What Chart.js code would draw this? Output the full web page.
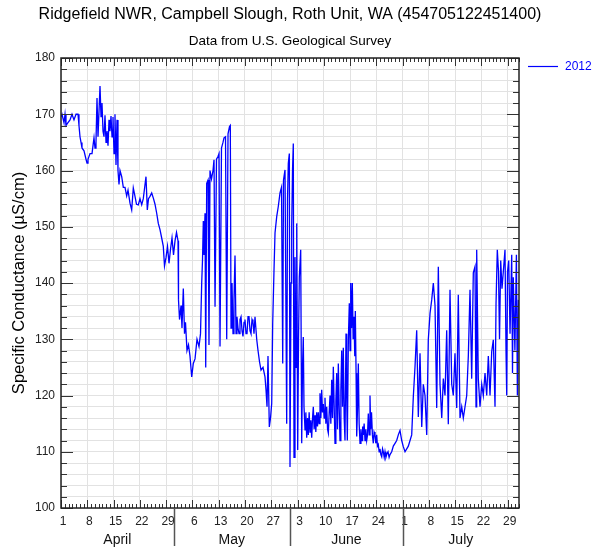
<!DOCTYPE html>
<html>
<head>
<meta charset="utf-8">
<title>Ridgefield NWR specific conductance</title>
<script src="https://cdn.jsdelivr.net/npm/chart.js@4.4.0/dist/chart.umd.min.js"></script>
<style>
    html, body { margin: 0; padding: 0; background: #fff; }
</style>
</head>
<body>
<canvas id="scCanvas" width="594" height="548"></canvas>
<script>
// positions are days since 1 April 2012 00:00, values in uS/cm
const aprilDays = [
    0.00, 0.27, 0.80, 1.07, 1.33, 1.86, 2.40, 2.93, 3.46, 4.00,
    4.53, 4.79, 5.06, 5.33, 5.59, 6.13, 6.66, 6.93, 7.19, 7.73,
    8.26, 8.79, 9.06, 9.32, 9.59, 9.86, 10.39, 10.66, 10.92, 11.19,
    11.45, 11.72, 11.99, 12.25, 12.52, 12.79, 13.05, 13.32, 13.59, 13.85,
    14.12, 14.38, 14.65, 14.92, 15.18, 15.45, 15.72, 16.17, 16.60, 17.05,
    17.50, 17.85, 18.38, 18.83, 19.26, 19.71, 20.11, 20.59, 21.04, 21.50,
    21.92, 22.64, 22.99, 23.31, 23.71, 24.16, 24.64, 25.04, 25.49, 25.92,
    26.37, 26.82, 27.25, 27.57, 27.97, 28.37, 28.77, 29.17, 29.57, 29.97
];
const aprilValues = [
    169.5, 170, 168.5, 170, 168, 168.5, 169, 170, 169, 170,
    170, 168, 166, 165, 164, 163.5, 162, 161.3, 162, 163,
    163, 165.8, 164, 165, 172.9, 166, 175, 169.6, 172, 167,
    166, 169.8, 165, 167, 164.4, 169, 167, 169.7, 166, 169.5,
    163, 170, 161, 169, 160, 157.5, 160, 158.9, 157, 157,
    155.5, 156.5, 154.2, 153, 156.9, 155.4, 154, 153.9, 155, 153.9,
    155, 158.9, 153, 155, 155.4, 156, 155, 154, 152.4, 150.6,
    149.5, 148, 146.5, 143, 144.5, 146.5, 143.5, 146, 148, 145
];

const mayDays = [
    30.37, 30.77, 31.17, 31.30, 31.57, 31.97, 32.23, 32.58, 32.90, 33.16,
    33.56, 33.96, 34.36, 34.82, 35.24, 35.70, 36.23, 36.76, 37.16, 37.48,
    37.69, 37.91, 38.09, 38.36, 38.55, 38.81, 39.16, 39.42, 39.69, 40.09,
    40.49, 40.76, 41.03, 41.42, 41.82, 42.09, 42.36, 42.75, 43.15, 43.42,
    43.82, 44.14, 44.49, 44.89, 45.10, 45.29, 45.55, 45.82, 46.08, 46.35,
    46.62, 46.88, 47.15, 47.42, 47.68, 47.95, 48.22, 48.48, 48.75, 49.01,
    49.28, 49.55, 49.82, 50.08, 50.35, 50.61, 50.88, 51.14, 51.41, 51.68,
    52.13, 52.48, 52.88, 53.28, 53.81, 54.34, 54.61, 54.88, 55.14, 55.49,
    55.81, 56.13, 56.39, 56.74, 57.01, 57.46, 57.88, 58.34, 58.74, 59.06,
    59.27, 59.67, 60.12, 60.34, 60.55, 60.82
];
const mayValues = [
    147.5, 149, 147.5, 137, 133.5, 136, 132, 139, 131, 133,
    128, 129, 127, 123.3, 125.7, 126.5, 130, 128.7, 131, 140,
    144, 151, 145, 152.4, 125, 157.7, 158.3, 129, 160, 158.5,
    160, 161.9, 135.8, 162, 162.5, 163, 128.7, 164, 165, 165.8,
    166, 130, 166.5, 167.8, 168, 132, 140, 131, 137, 144.9,
    131, 134, 132, 131, 133.5, 134, 131.5, 130.5, 133, 133.5,
    131, 131, 134, 134, 131.5, 131, 133.5, 133, 131, 134,
    130, 128, 126, 124.5, 125, 123.3, 121, 118, 127, 114.4,
    116, 118.6, 132.8, 142.3, 148.9, 151.8, 153.6, 156, 157, 125.7,
    158.3, 160.1, 115, 155, 161.3, 163
];

const juneDays = [
    61.00, 61.27, 61.45, 61.67, 61.88, 62.07, 62.33, 62.60, 62.79, 63.05,
    63.27, 63.48, 63.85, 64.12, 64.33, 64.54, 64.73, 65.00, 65.22, 65.45,
    65.67, 65.88, 66.10, 66.33, 66.55, 66.78, 67.00, 67.21, 67.43, 67.66,
    67.88, 68.11, 68.33, 68.54, 68.77, 68.99, 69.22, 69.44, 69.65, 69.87,
    70.10, 70.32, 70.55, 70.78, 71.00, 71.21, 71.44, 71.66, 71.88, 72.11,
    72.33, 72.54, 72.77, 72.99, 73.22, 73.44, 73.66, 73.87, 74.10, 74.32,
    74.55, 74.77, 74.99, 75.20, 75.43, 75.65, 75.92, 76.10, 76.27, 76.55,
    76.80, 77.00, 77.17, 77.40, 77.60, 77.82, 78.05, 78.25, 78.40, 78.60,
    78.77, 79.00, 79.20, 79.42, 79.65, 79.90, 80.18, 80.35, 80.53, 80.75,
    80.98, 81.20, 81.43, 81.65, 81.86, 82.10, 82.31, 82.50, 82.71, 82.95,
    83.19, 83.40, 83.64, 83.85, 84.09, 84.30, 84.52, 84.75, 84.97, 85.20,
    85.43, 85.65, 85.85, 86.10, 86.31, 86.55, 86.76, 87.11, 87.40, 87.64,
    88.09, 88.52, 88.97, 89.42, 89.85, 90.30, 90.76
];
const juneValues = [
    107.3, 140, 150, 160, 164.8, 109, 144.6, 125, 150.6, 110.3,
    130, 141, 145.9, 111.5, 125, 130.4, 118, 113.9, 117, 112.5,
    116, 113, 117, 113.5, 115.6, 112.5, 116, 118, 114, 116.5,
    113.5, 117, 114.5, 117, 115, 120.4, 116, 121, 117, 118.5,
    116, 119.6, 115, 118, 114, 113.3, 117, 120, 115, 122.8,
    116, 125.1, 118, 111.5, 119, 124, 114, 125.7, 118, 112,
    121, 128, 118, 128.5, 116, 112, 131, 120, 112, 130,
    136.4, 128, 140, 132, 140, 130, 134, 127, 135, 124,
    112.7, 118, 125.7, 115, 111.5, 114, 112, 114.5, 113, 115,
    112, 114, 112, 113, 116.8, 113, 120, 114, 117, 113,
    111.5, 113.5, 113, 111.5, 113, 111, 111.3, 110, 110.5, 109.5,
    109.1, 110.5, 110, 109, 110, 109, 109.5, 110, 109, 109.5,
    110, 111, 111.5, 112, 113, 113.8, 112
];

const julyDays = [
    91.18, 91.64, 92.09, 92.52, 92.97, 93.42, 93.85, 94.30, 94.75, 95.18,
    95.63, 96.09, 96.51, 96.96, 97.42, 97.84, 98.30, 98.75, 99.18, 99.63,
    100.08, 100.51, 100.96, 101.42, 101.84, 102.29, 102.74, 103.17, 103.62, 104.08,
    104.50, 104.95, 105.41, 105.83, 106.29, 106.74, 107.17, 107.62, 108.07, 108.50,
    108.95, 109.40, 109.83, 110.28, 110.55, 110.73, 111.16, 111.61, 112.07, 112.49,
    112.95, 113.40, 113.83, 114.28, 114.73, 115.16, 115.61, 115.88, 116.22, 116.54,
    116.81, 117.13, 117.47, 117.82, 118.27, 118.54, 118.73, 118.94, 119.26, 119.61,
    120.06, 120.27, 120.48, 120.91, 121.31, 121.57, 121.84
];
const julyValues = [
    110.9, 110, 110.5, 111, 112, 113, 119.8, 125.1, 131.6, 116.2,
    127.5, 114.4, 122, 120, 113, 129.9, 134.6, 137, 140, 136,
    117.8, 142.9, 122, 116, 123, 120, 131.6, 114.9, 138.8, 122,
    120, 127.5, 117.8, 137.9, 116, 118, 116, 118, 120, 127,
    138.8, 123, 141.8, 142.9, 118, 145.9, 123, 118, 122, 120,
    124, 120, 127, 120, 127.8, 129.9, 118, 136.3, 145.9, 142,
    130, 144, 139, 142, 145.9, 128, 120, 142, 144, 131,
    145, 124, 141, 128, 145, 120, 137
];

const monthNames = ['April', 'May', 'June', 'July'];
const monthLengths = [30, 31, 30, 31];
// weekly tick labels (day of month), every 7 days from 1 April
const tickDays = [1, 8, 15, 22, 29, 6, 13, 20, 27, 3, 10, 17, 24, 1, 8, 15, 22, 29];

const titleText = 'Ridgefield NWR, Campbell Slough, Roth Unit, WA (454705122451400)';
const subtitleText = 'Data from U.S. Geological Survey';
const FONT = "'Liberation Sans', Arial, sans-serif";
const totalDays = monthLengths.reduce((a, b) => a + b, 0);

const allDays = aprilDays.concat(mayDays, juneDays, julyDays);
const allValues = aprilValues.concat(mayValues, juneValues, julyValues);
const points = allDays.map((d, i) => ({ x: d, y: allValues[i] }));

const framePlugin = {
    id: 'frame',
    afterDatasetsDraw(chart) {
        const { ctx, chartArea: a, scales } = chart;
        const x = scales.x, y = scales.y;
        ctx.save();

        // small inward ticks on all four sides
        ctx.strokeStyle = '#333';
        ctx.lineWidth = 1;
        ctx.beginPath();
        for (let d = 0; d <= totalDays; d++) {
            const px = Math.round(x.getPixelForValue(d)) + 0.5;
            const len = d % 7 === 0 ? 8 : 4;
            ctx.moveTo(px, a.bottom); ctx.lineTo(px, a.bottom - len);
            ctx.moveTo(px, a.top); ctx.lineTo(px, a.top + len);
        }
        for (let v = 100; v <= 180; v += 2) {
            const py = Math.round(y.getPixelForValue(v)) + 0.5;
            const len = v % 10 === 0 ? 12 : 6;
            ctx.moveTo(a.left, py); ctx.lineTo(a.left + len, py);
            ctx.moveTo(a.right, py); ctx.lineTo(a.right - len, py);
        }
        ctx.stroke();

        // frame
        ctx.strokeStyle = '#222';
        ctx.lineWidth = 1.5;
        ctx.strokeRect(a.left, a.top, a.right - a.left, a.bottom - a.top);

        // month separators and names
        ctx.strokeStyle = '#555';
        ctx.lineWidth = 1.5;
        ctx.fillStyle = '#111';
        ctx.font = '14px ' + FONT;
        ctx.textAlign = 'center';
        ctx.textBaseline = 'middle';
        let start = 0;
        monthNames.forEach((m, i) => {
            const end = start + monthLengths[i];
            const mid = (x.getPixelForValue(start) + x.getPixelForValue(end)) / 2;
            ctx.fillText(m, mid, 540);
            if (i > 0) {
                const px = Math.round(x.getPixelForValue(start)) + 0.5;
                ctx.beginPath();
                ctx.moveTo(px, a.bottom);
                ctx.lineTo(px, 546);
                ctx.stroke();
            }
            start = end;
        });

        // titles
        const cx = (a.left + a.right) / 2;
        ctx.fillStyle = '#000';
        ctx.font = '16px ' + FONT;
        ctx.fillText(titleText, cx, 15);
        ctx.font = '13.5px ' + FONT;
        ctx.fillText(subtitleText, cx, 41);

        // legend
        const ds = chart.data.datasets[0];
        ctx.strokeStyle = ds.borderColor;
        ctx.lineWidth = 1.2;
        ctx.beginPath();
        ctx.moveTo(528, 66.5);
        ctx.lineTo(558, 66.5);
        ctx.stroke();
        ctx.fillStyle = ds.borderColor;
        ctx.font = '12px ' + FONT;
        ctx.textAlign = 'left';
        ctx.fillText(ds.label, 565, 67);

        ctx.restore();
    }
};

const ctx = document.getElementById('scCanvas').getContext('2d');
const scChart = new Chart(ctx, {
    type: 'line',
    data: {
        datasets: [{
            label: '2012',
            data: points,
            borderColor: '#0000ff',
            borderWidth: 1.3,
            pointRadius: 0,
            tension: 0,
            fill: false
        }]
    },
    options: {
        responsive: false,
        animation: false,
        layout: { padding: { left: 0, top: 58, right: 75, bottom: 0 } },
        plugins: {
            legend: { display: false },
            tooltip: { enabled: false }
        },
        scales: {
            x: {
                type: 'linear',
                min: 0,
                max: totalDays,
                afterBuildTicks: s => { s.ticks = tickDays.map((d, i) => ({ value: i * 7 })); },
                afterFit: s => { s.height = 40; },
                grid: { color: '#e2e2e2', drawTicks: false },
                border: { display: false },
                ticks: {
                    autoSkip: false,
                    maxRotation: 0,
                    padding: 6,
                    labelOffset: 2,
                    color: '#222',
                    font: { family: FONT, size: 12 },
                    callback: (v, i) => tickDays[i]
                }
            },
            y: {
                min: 100,
                max: 180,
                afterFit: s => { s.width = 61; },
                grid: { color: '#e2e2e2', drawTicks: false },
                border: { display: false },
                ticks: {
                    stepSize: 2,
                    autoSkip: false,
                    padding: 6,
                    color: '#222',
                    font: { family: FONT, size: 12 },
                    callback: v => (Math.round(v) % 10 === 0 ? Math.round(v) : '')
                },
                title: {
                    display: true,
                    text: 'Specific Conductance (\u00b5S/cm)',
                    color: '#000',
                    font: { family: FONT, size: 16.5 },
                    padding: { top: 10, bottom: 0 }
                }
            }
        }
    },
    plugins: [framePlugin]
});
</script>
</body>
</html>
